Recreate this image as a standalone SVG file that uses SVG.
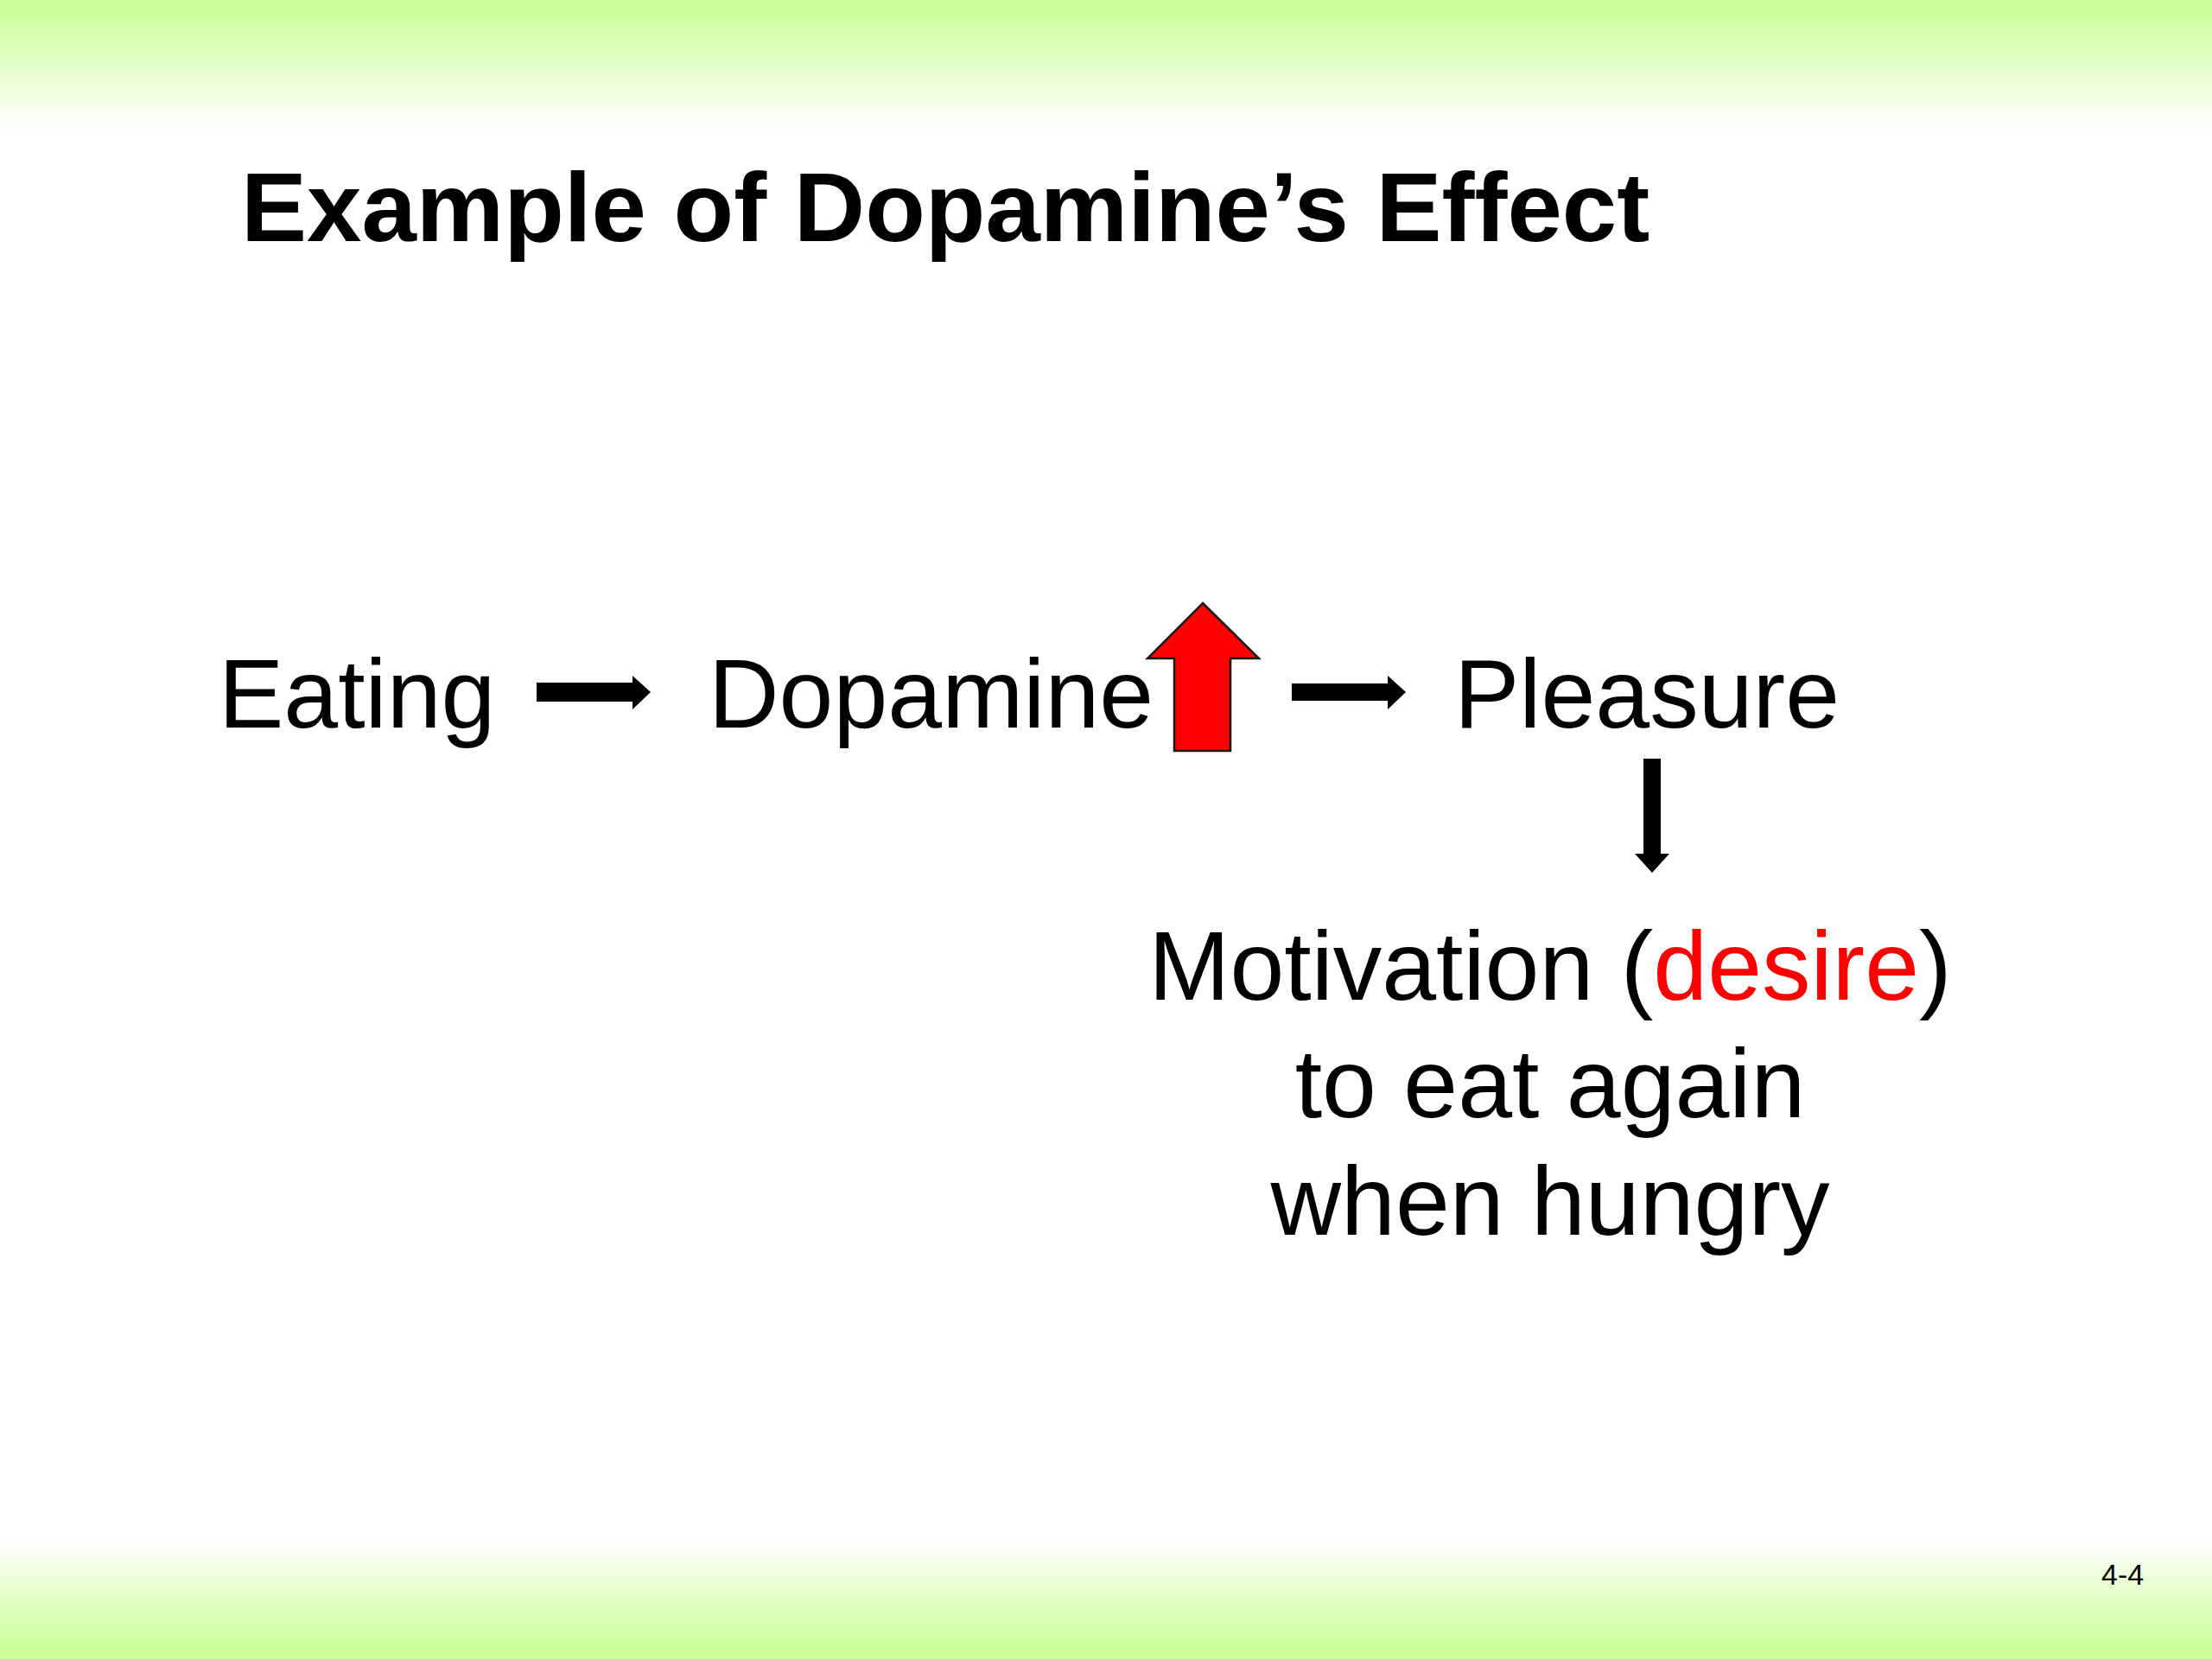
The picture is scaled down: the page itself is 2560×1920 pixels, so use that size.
<svg xmlns="http://www.w3.org/2000/svg" width="2560" height="1920" viewBox="0 0 2560 1920">
  <defs>
    <linearGradient id="topGrad" x1="0" y1="0" x2="0" y2="1">
      <stop offset="0" stop-color="#CCFF99"/>
      <stop offset="0.08" stop-color="#CCFF99"/>
      <stop offset="1" stop-color="#FFFFFF"/>
    </linearGradient>
    <linearGradient id="botGrad" x1="0" y1="0" x2="0" y2="1">
      <stop offset="0" stop-color="#FFFFFF"/>
      <stop offset="0.9" stop-color="#CCFF99"/>
      <stop offset="1" stop-color="#CCFF99"/>
    </linearGradient>
  </defs>
  <style>
    .t { font-family: "Liberation Sans", Arial, sans-serif; fill: #000; }
    .big { font-size: 113px; }
    .title { font-size: 114px; font-weight: bold; }
    .red { fill: #FF0000; }
    .arr { fill: #000; stroke: none; }
  </style>
  <rect x="0" y="0" width="2560" height="1920" fill="#FFFFFF"/>
  <rect x="0" y="0" width="2560" height="150" fill="url(#topGrad)"/>
  <rect x="0" y="1780" width="2560" height="140" fill="url(#botGrad)"/>

  <text id="title" class="t title" x="279" y="279">Example of Dopamine’s Effect</text>

  <g id="node-eating"><text class="t big" x="253" y="842">Eating</text></g>
  <g id="node-dopamine"><text class="t big" x="820" y="842">Dopamine</text></g>
  <g id="node-pleasure"><text class="t big" x="1683" y="842">Pleasure</text></g>
  <g id="node-motivation">
    <text class="t big" x="1794" y="1157" text-anchor="middle">Motivation (<tspan class="red">desire</tspan>)</text>
    <text class="t big" x="1794" y="1293" text-anchor="middle">to eat again</text>
    <text class="t big" x="1794" y="1429" text-anchor="middle">when hungry</text>
  </g>
  <g id="increase-indicator">
    <polygon points="1392,698 1457,762 1424,762 1424,869 1359,869 1359,762 1328,762" fill="#FF0000" stroke="#1a1a1a" stroke-width="2.5" stroke-linejoin="miter"/>
  </g>

  <g id="connectors">
    <polygon class="arr" points="621,790 732,790 732,782 753,801 732,821 732,812 621,812"/>
    <polygon class="arr" points="1495,791 1606,791 1606,782 1627,801 1606,821 1606,811 1495,811"/>
    <polygon class="arr" points="1902,878 1922,878 1922,988 1932,988 1912,1010 1892,988 1902,988"/>
  </g>

  <text id="page-number" class="t" x="2432" y="1834" font-size="34">4-4</text>
</svg>
